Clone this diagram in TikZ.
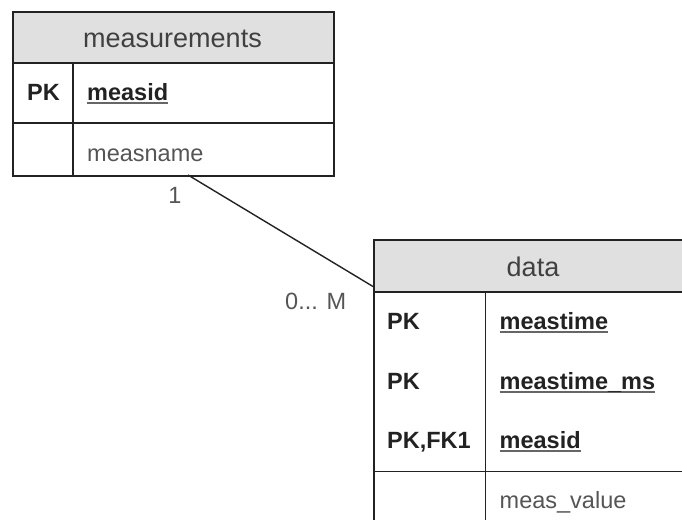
\documentclass[tikz,border=0pt]{standalone}
\usepackage{fontspec}
\setmainfont{Liberation Sans}
\definecolor{linec}{HTML}{222222}
\definecolor{headfill}{HTML}{E0E0E0}
\definecolor{headtext}{HTML}{404040}
\definecolor{fieldtext}{HTML}{555555}
\definecolor{keytext}{HTML}{222222}
\definecolor{ulc}{HTML}{666666}
% underlined key field name
\newcommand\keyfield[1]{\setbox0=\hbox{#1}\rlap{\textcolor{ulc}{\rule[-3.6pt]{\wd0}{1.4pt}}}\box0}
\begin{document}
\begin{tikzpicture}[x=1pt,y=-1pt,
  frame/.style={draw=linec, line width=1.6pt, inner sep=0pt, anchor=north west, rectangle},
  head/.style={frame, fill=headfill},
  rule/.style={draw=linec, line width=1.6pt},
  conn/.style={draw=linec, line width=1.4pt},
  title/.style={inner sep=0pt, anchor=base, text=headtext, font=\fontsize{27}{32}\selectfont},
  keycol/.style={inner sep=0pt, anchor=base west, text=keytext, font=\fontsize{23.5}{28}\selectfont\bfseries},
  keyname/.style={inner sep=0pt, anchor=base west, text=keytext, font=\fontsize{23.5}{28}\selectfont\bfseries},
  plainname/.style={inner sep=0pt, anchor=base west, text=fieldtext, font=\fontsize{23.5}{28}\selectfont},
  mult/.style={inner sep=0pt, text=fieldtext, font=\fontsize{23.5}{28}\selectfont}]
\useasboundingbox (0,0) rectangle (682,519);
\clip (0,0) rectangle (682,519);

% table: measurements
\node[head, minimum width=321pt, minimum height=51pt] (mhead) at (12,11) {};
\node[frame, minimum width=321pt, minimum height=113pt] (mbody) at (12,62) {};
\draw[rule] (12,123) -- (333,123);
\draw[rule] (73,62) -- (73,175);
\node[title] (mtitle) at (172.5,48) {measurements};
\node[keycol] (mpk) at (27,100) {PK};
\node[keyname] (mid) at (87,100) {\keyfield{measid}};
\node[plainname] (mname) at (87,161) {measname};

% table: data
\node[head, minimum width=320pt, minimum height=52pt] (dhead) at (373,239) {};
\node[frame, minimum width=320pt, minimum height=300pt] (dbody) at (373,291) {};
\draw[rule] (373,471.5) -- (693,471.5);
\draw[rule] (485.5,291) -- (485.5,540);
\node[title] (dtitle) at (533,276.5) {data};
\node[keycol] (dpk1) at (387,329) {PK};
\node[keycol] (dpk2) at (387,389) {PK};
\node[keycol] (dpk3) at (387,448) {PK,FK1};
\node[keyname] (dtime) at (499.5,329) {\keyfield{meastime}};
\node[keyname] (dms) at (499.5,389) {\keyfield{meastime\_ms}};
\node[keyname] (did) at (499.5,448) {\keyfield{measid}};
\node[plainname] (dval) at (499.5,508) {meas\_value};

% relationship
\coordinate (mfoot) at (188,175);
\coordinate (dside) at (373,286.5);
\draw[conn] (mfoot) -- (dside);
\node[mult, anchor=base] (one) at (175,203) {1};
\node[mult, anchor=base west] (many) at (285,309) {0... M};
\end{tikzpicture}
\end{document}
